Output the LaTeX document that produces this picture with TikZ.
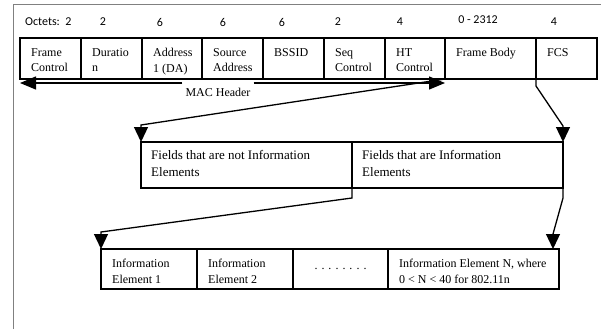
\documentclass[tikz,border=0pt]{standalone}
\usepackage{fontspec}
\setmainfont{Liberation Serif}
\newfontfamily\octetfont{Carlito}
\usetikzlibrary{
    arrows.meta,
    positioning
}
\tikzset{
    field/.style={
        rectangle,
        draw=black,
        line width=1.6pt,
        anchor=north west,
        outer sep=0pt,
        inner sep=0pt,
        minimum height=41pt
    },
    fieldtext/.style={
        anchor=north west,
        align=left,
        inner sep=0pt,
        xshift=11pt,
        yshift=-10pt,
        font=\fontsize{12}{15.5}\selectfont
    },
    widetext/.style={
        fieldtext,
        xshift=-1pt,
        yshift=2pt,
        font=\fontsize{13}{17}\selectfont
    },
    octets/.style={
        inner sep=0pt,
        font=\octetfont\fontsize{12}{14}\selectfont
    },
    arrow/.style={
        -{Triangle[length=15pt,width=14pt]},
        line width=1.3pt
    },
    hdrarrow/.style={
        -{Triangle[length=16pt,width=13pt]},
        line width=1.3pt
    }
}

\begin{document}
\begin{tikzpicture}[x=1pt, y=-1pt]
\useasboundingbox (0,0) rectangle (601,329);

% page frame
\draw[gray, line width=1pt] (13,329) -- (13,5) -- (601,5);

% octet counts
\node[octets, anchor=west] (octlbl) at (25,22) {Octets:~~2};
\foreach \n/\x in {2/103, 6/160, 6/223, 6/282, 2/338, 4/400, 4/554}
    \node[octets] (oct\x) at (\x,22) {\n};
\node[octets] (octfb) at (478,20) {0 - 2312};

% MAC frame
\node[field, minimum width=61pt, label={[fieldtext]north west:Frame\\Control}] (fc) at (20,38) {};
\node[field, minimum width=61pt, right=0pt of fc, label={[fieldtext]north west:Duratio\\n}] (dur) {};
\node[field, minimum width=60pt, right=0pt of dur, label={[fieldtext]north west:Address\\1 (DA)}] (addr) {};
\node[field, minimum width=61pt, right=0pt of addr, label={[fieldtext]north west:Source\\Address}] (src) {};
\node[field, minimum width=61pt, right=0pt of src, label={[fieldtext]north west:BSSID}] (bssid) {};
\node[field, minimum width=61pt, right=0pt of bssid, label={[fieldtext]north west:Seq\\Control}] (seq) {};
\node[field, minimum width=60pt, right=0pt of seq, label={[fieldtext]north west:HT\\Control}] (ht) {};
\node[field, minimum width=91pt, right=0pt of ht, label={[fieldtext]north west:Frame Body}] (fb) {};
\node[field, minimum width=61pt, right=0pt of fb, label={[fieldtext]north west:FCS}] (fcs) {};

% MAC header span
\node[font=\fontsize{12}{14}\selectfont, inner sep=3pt] (mac) at (218,92) {MAC Header};
\coordinate (hdrL) at (20,83);
\coordinate (hdrR) at (445,83);
\draw[hdrarrow] (mac.west |- hdrL) -- (hdrL);
\draw[hdrarrow] (mac.east |- hdrR) -- (hdrR);

% frame body
\node[field, minimum width=211pt, minimum height=46pt, label={[widetext]north west:Fields that are not Information\\Elements}] (notie) at (141,142) {};
\node[field, minimum width=211pt, minimum height=46pt, right=0pt of notie, label={[widetext]north west:Fields that are Information\\Elements}] (isie) {};

% information elements
\node[field, minimum width=96pt, minimum height=40pt, label={[fieldtext]north west:Information\\Element 1}] (ie1) at (101,249) {};
\node[field, minimum width=96pt, minimum height=40pt, right=0pt of ie1, label={[fieldtext]north west:Information\\Element 2}] (ie2) {};
\node[field, minimum width=95pt, minimum height=40pt, right=0pt of ie2, font=\fontsize{12}{14}\selectfont] (iedots) {. . . . . . . .};
\node[field, minimum width=171pt, minimum height=40pt, right=0pt of iedots, label={[fieldtext]north west:{Information Element N, where\\0 < N < 40 for 802.11n}}] (ien) {};

% expansions
\draw[arrow] (fb.south west) -- ([yshift=17pt]notie.north west) -- (notie.north west);
\draw[arrow] (fcs.south west) -- ++(0,7) -- ([yshift=16pt]isie.north east) -- (isie.north east);
\draw[arrow] (notie.south east) -- ++(0,10) -- ([yshift=17pt]ie1.north west) -- (ie1.north west);
\draw[arrow] (isie.south east) -- ++(0,10) -- ([xshift=-6pt,yshift=15pt]ien.north east) -- ([xshift=-6pt]ien.north east);
\end{tikzpicture}
\end{document}
